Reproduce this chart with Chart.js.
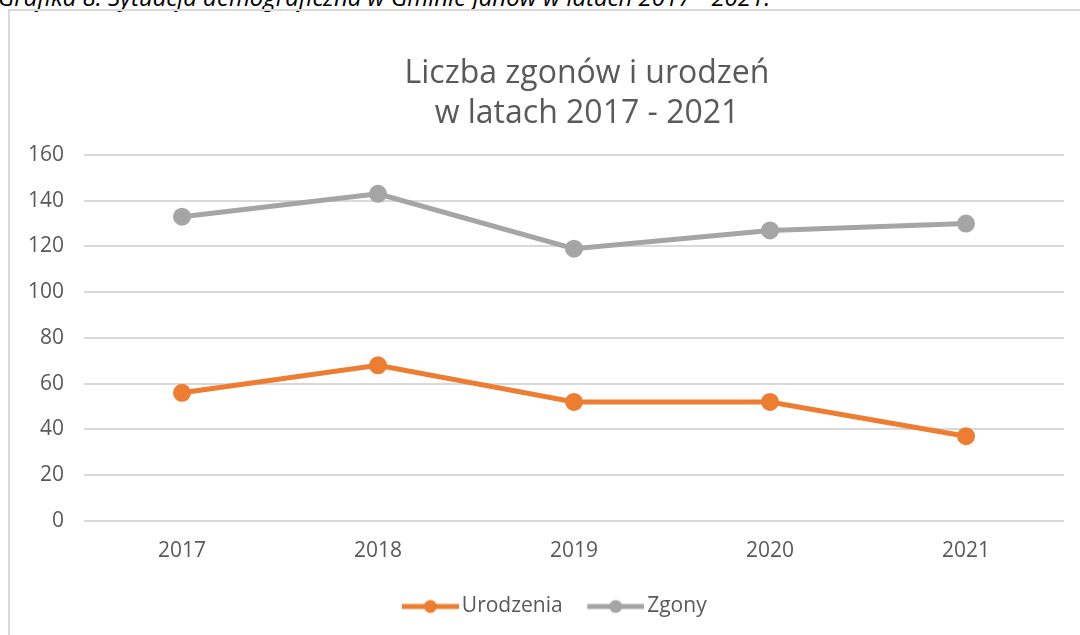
<!DOCTYPE html>
<html>
	<head>
		<meta charset="utf-8">
		<title>Liczba zgonów i urodzeń</title>
		<script src="https://cdn.jsdelivr.net/npm/chart.js@4.4.0/dist/chart.umd.min.js"></script>
		<style>
			body { margin: 0; width: 1080px; height: 635px; overflow: hidden; background: #fff; position: relative; font-family: "Open Sans", sans-serif; }
			.caption { position: absolute; left: -2px; top: -15px; font-style: italic; font-size: 24px; line-height: 24px; color: #000; white-space: nowrap; }
			.frame { position: absolute; left: 8px; top: 9px; width: 1100px; height: 700px; border: 2px solid #d9d9d9; box-sizing: border-box; }
			#wrap { position: absolute; left: 0; top: 0; width: 1080px; height: 635px; }
		</style>
	</head>
	<body>
		<div class="caption">Grafika 8. Sytuacja demograficzna w Gminie Janów w latach 2017 - 2021.</div>
		<div class="frame"></div>
		<div id="wrap"><canvas id="myChart"></canvas></div>
		<script>
			// dane
			const lata = ["2017", "2018", "2019", "2020", "2021"];
			const urodzenia = [56, 68, 52, 52, 37];
			const zgony = [133, 143, 119, 127, 130];
			const tytul = ["Liczba zgonów i urodzeń", "w latach 2017 - 2021"];

			const orange = '#ED7D31';
			const gray = '#A5A5A5';
			const textColor = '#595959';

			// ikonka legendy: linia z kółkiem (z przezroczystym marginesem z lewej)
			function legendIcon (color) {
				const c = document.createElement('canvas');
				c.width = 75;
				c.height = 16;
				const ctx = c.getContext('2d');
				ctx.strokeStyle = color;
				ctx.lineWidth = 5;
				ctx.beginPath();
				ctx.moveTo(18, 8);
				ctx.lineTo(75, 8);
				ctx.stroke();
				ctx.fillStyle = color;
				ctx.beginPath();
				ctx.arc(46.5, 8, 6.5, 0, Math.PI * 2);
				ctx.fill();
				return c;
			}

			// przesunięcie tytułu i legendy w poziomie
			const shiftPlugin = {
				id: 'shift',
				afterLayout: function (ch) {
					ch.titleBlock.left += 55;
					ch.titleBlock.right += 55;
					ch.legend.left += 17;
					ch.legend.right += 17;
				}
			};

			Chart.defaults.font.family = '"Open Sans", sans-serif';
			Chart.defaults.color = textColor;

			var chart = new Chart(document.getElementById('myChart').getContext('2d'), {
				type: 'line',
				plugins: [shiftPlugin],
				data: {
					labels: lata,
					datasets: [{
						label: "Urodzenia",
						data: urodzenia,
						borderColor: orange,
						backgroundColor: orange,
						borderWidth: 5,
						pointRadius: 6.5,
						tension: 0
					},
					{
						label: "Zgony",
						data: zgony,
						borderColor: gray,
						backgroundColor: gray,
						borderWidth: 5,
						pointRadius: 6.5,
						tension: 0
					}]
				},
				options: {
					responsive: true,
					maintainAspectRatio: false,
					animation: false,
					layout: {
						padding: { left: 0, right: 16, top: 0, bottom: 8 }
					},
					plugins: {
						title: {
							display: true,
							text: tytul,
							color: textColor,
							font: { size: 32, weight: 'normal', lineHeight: 1.25 },
							padding: { top: 54, bottom: 21 }
						},
						legend: {
							position: 'bottom',
							labels: {
								usePointStyle: true,
								pointStyleWidth: 60,
								color: textColor,
								font: { size: 21 },
								padding: 14,
								generateLabels: function (ch) {
									return ch.data.datasets.map(function (ds, i) {
										return {
											text: ds.label,
											fontColor: textColor,
											pointStyle: legendIcon(ds.borderColor),
											lineWidth: 0,
											strokeStyle: 'transparent',
											fillStyle: ds.borderColor,
											datasetIndex: i
										};
									});
								}
							}
						},
						tooltip: { enabled: false }
					},
					scales: {
						x: {
							offset: true,
							grid: { display: false, drawTicks: false },
							border: { display: false },
							ticks: { color: textColor, font: { size: 21 }, padding: 18 }
						},
						y: {
							min: 0,
							max: 160,
							ticks: { stepSize: 20, color: textColor, font: { size: 21 }, padding: 20 },
							grid: { color: '#d9d9d9', lineWidth: 2, drawTicks: false },
							border: { display: false },
							afterFit: function (scale) { scale.width = 84; }
						}
					}
				}
			});
		</script>
	</body>
</html>
